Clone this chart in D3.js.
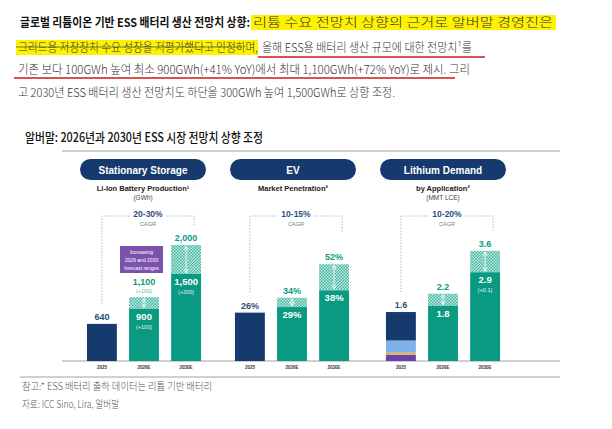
<!DOCTYPE html>
<html><head><meta charset="utf-8">
<script src="https://cdn.jsdelivr.net/npm/d3@7"></script>
<style>body{margin:0;background:#fff}svg{display:block;font-family:"Noto Sans CJK KR","Noto Sans",sans-serif}</style>
</head><body>
<script>
// panels
const panelTitles = ["Stationary Storage", "EV", "Lithium Demand"]
const panelSubs = [["Li-Ion Battery Production¹", "(GWh)"], ["Market Penetration²", ""], ["by Application²", "(MMT LCE)"]]
const years = ["2025", "2026E", "2030E"]
const cagr = ["20-30%", "10-15%", "10-20%"]
// base (solid) and high (hatched top) per panel
const storageLow = [640, 900, 1500], storageHigh = [640, 1100, 2000]
const storageNote = ["", "(+100)", "(+300)"], storageHighNote = ["", "(+100)", ""]
const evLow = [26, 29, 38], evHigh = [26, 34, 52]
const lithLow = [1.6, 1.8, 2.9], lithHigh = [1.6, 2.2, 3.6], lithNote = ["", "", "(+0.1)"]
const lith2025Parts = [0.2, 0.07, 0.4, 0.93]
const lithPartColors = ["#6b3fb0", "#f0b232", "#7fb1ea", "#163a6e"]

const W = 612, H = 429, base = 361
const navy = "#163a6e", teal = "#0a9a82"
const svg = d3.select("body").append("svg").attr("width", W).attr("height", H)
const defs = svg.append("defs")
const pat = defs.append("pattern").attr("id", "hatch").attr("width", 3).attr("height", 3).attr("patternUnits", "userSpaceOnUse")
pat.append("rect").attr("width", 3).attr("height", 3).attr("fill", "#3fb5a0")
pat.append("rect").attr("width", 1.5).attr("height", 1.5).attr("fill", "#c9ece4")
pat.append("rect").attr("x", 1.5).attr("y", 1.5).attr("width", 1.5).attr("height", 1.5).attr("fill", "#c9ece4")

// header text
const txt = (x, y, s, len, o = {}) => svg.append("text").attr("x", x).attr("y", y).attr("font-size", o.size || 12)
  .attr("font-weight", o.bold ? 700 : 300).attr("fill", o.fill || "#333").attr("textLength", len).attr("lengthAdjust", "spacingAndGlyphs").text(s)
svg.append("rect").attr("x", 251).attr("y", 15).attr("width", 305).attr("height", 15).attr("fill", "#fff200")
svg.append("rect").attr("x", 16).attr("y", 40).attr("width", 242).attr("height", 15).attr("fill", "#fff200")
txt(20, 27, "글로벌 리튬이온 기반 ESS 배터리 생산 전망치 상향:", 230, {bold: true, fill: "#111"})
txt(253, 27, "리튬 수요 전망치 상향의 근거로 알버말 경영진은", 300)
txt(18, 52, "그리드용 저장장치 수요 성장을 저평가했다고 인정하며,", 240)
txt(262, 52, "올해 ESS용 배터리 생산 규모에 대한 전망치¹를", 210)
txt(18, 74, "기존 보다 100GWh 높여 최소 900GWh(+41% YoY)에서 최대 1,100GWh(+72% YoY)로 제시. 그리", 452)
txt(18, 97, "고 2030년 ESS 배터리 생산 전망치도 하단을 300GWh 높여 1,500GWh로 상향 조정.", 377)
svg.append("line").attr("x1", 16).attr("x2", 242).attr("y1", 47).attr("y2", 47).attr("stroke", "#555").attr("stroke-width", 0.8)
svg.append("path").attr("d", "M258,57H485M14,78H455").attr("stroke", "#d01818").attr("stroke-width", 1.3).attr("fill", "none")
txt(25, 142, "알버말: 2026년과 2030년 ESS 시장 전망치 상향 조정", 238, {size: 13, fill: "#111"}).attr("font-weight", 500)

svg.append("path").attr("d", `M62,151H560M62,${base}H560M20,377H560`).attr("stroke", "#8a8a8a").attr("stroke-width", 0.8)

const panels = [
  {x0: 87, low: storageLow, high: storageHigh, note: storageNote, hnote: storageHighNote, k: 116 / 2000, fmt: d3.format(","), pill: 80},
  {x0: 235, low: evLow, high: evHigh, note: ["", "", ""], hnote: ["", "", ""], k: 1.86, fmt: d => d + "%", pill: 230},
  {x0: 386, low: lithLow, high: lithHigh, note: lithNote, hnote: ["", "", ""], k: 30.6, fmt: d3.format(".1f"), pill: 380}
]
panels.forEach((p, pi) => {
  const g = svg.append("g")
  const x = d3.scaleBand().domain(years).range([p.x0 - 11, p.x0 + 30 + 42 * 2 + 11]).paddingInner(0.29).paddingOuter(0.26)
  const y = d3.scaleLinear().domain([0, 1]).range([base, base - p.k])
  g.append("rect").attr("x", p.pill).attr("y", 159).attr("width", 126).attr("height", 21).attr("rx", 10.5).attr("fill", navy)
  g.append("text").attr("x", p.pill + 63).attr("y", 174).attr("text-anchor", "middle").attr("fill", "#fff").attr("font-size", 10).attr("font-weight", 700).attr("font-family", "Arial, Liberation Sans").text(panelTitles[pi])
  g.append("text").attr("x", p.pill + 63).attr("y", 191).attr("text-anchor", "middle").attr("fill", "#222").attr("font-size", 7.5).attr("font-weight", 700).attr("font-family", "Liberation Sans").text(panelSubs[pi][0])
  g.append("text").attr("x", p.pill + 63).attr("y", 200).attr("text-anchor", "middle").attr("fill", "#444").attr("font-size", 6.5).attr("font-family", "Liberation Sans").text(panelSubs[pi][1])
  // CAGR bracket
  const cx0 = x(years[0]) + x.bandwidth() / 2, cx1 = x(years[2]) + x.bandwidth() / 2 + 8
  const topL = y(p.high[0]) - 20, topR = y(p.high[2]) - 20
  g.append("path").attr("d", `M${cx0},${topL}V216H${cx0 + 28}M${cx1 - 28},216H${cx1}V${Math.min(topR, 232)}`)
    .attr("stroke", "#9cc0d8").attr("stroke-dasharray", "1.5,1.5").attr("fill", "none")
  g.append("text").attr("x", (cx0 + cx1) / 2).attr("y", 217).attr("text-anchor", "middle").attr("fill", "#2a4f80").attr("font-size", 8.5).attr("font-weight", 700).attr("font-family", "Liberation Sans").text(cagr[pi])
  g.append("text").attr("x", (cx0 + cx1) / 2).attr("y", 226).attr("text-anchor", "middle").attr("fill", "#6a7f95").attr("font-size", 5.5).attr("font-family", "Liberation Sans").text("CAGR")
  years.forEach((yr, i) => {
    const bx = x(yr), bw = x.bandwidth(), mid = bx + bw / 2
    if (i === 0) {
      if (pi === 2) {
        let acc = 0
        lith2025Parts.forEach((v, j) => {
          g.append("rect").attr("x", bx).attr("width", bw).attr("y", y(acc + v)).attr("height", y(acc) - y(acc + v)).attr("fill", lithPartColors[j])
          acc += v
        })
      } else g.append("rect").attr("x", bx).attr("width", bw).attr("y", y(p.low[0])).attr("height", base - y(p.low[0])).attr("fill", navy)
      g.append("text").attr("x", mid).attr("y", y(p.low[0]) - 4).attr("text-anchor", "middle").attr("fill", "#2a4f80").attr("font-size", 9).attr("font-weight", 700).attr("font-family", "Liberation Sans").text(p.fmt(p.low[0]))
    } else {
      g.append("rect").attr("x", bx).attr("width", bw).attr("y", y(p.high[i])).attr("height", y(p.low[i]) - y(p.high[i])).attr("fill", "url(#hatch)")
      g.append("rect").attr("x", bx).attr("width", bw).attr("y", y(p.low[i])).attr("height", base - y(p.low[i])).attr("fill", teal)
      g.append("line").attr("x1", mid).attr("x2", mid).attr("y1", y(p.high[i]) + 2).attr("y2", y(p.low[i]) - 2).attr("stroke", "#fff").attr("stroke-width", 0.8)
      g.append("path").attr("d", `M${mid - 2},${y(p.low[i]) - 5}L${mid},${y(p.low[i]) - 1}L${mid + 2},${y(p.low[i]) - 5}M${mid - 2},${y(p.high[i]) + 5}L${mid},${y(p.high[i]) + 1}L${mid + 2},${y(p.high[i]) + 5}`).attr("stroke", "#fff").attr("stroke-width", 0.8).attr("fill", "none")
      const labY = p.hnote[i] ? y(p.high[i]) - 12 : y(p.high[i]) - 4
      g.append("text").attr("x", mid).attr("y", labY).attr("text-anchor", "middle").attr("fill", teal).attr("font-size", 9).attr("font-weight", 700).attr("font-family", "Liberation Sans").text(p.fmt(p.high[i]))
      if (p.hnote[i]) g.append("text").attr("x", mid).attr("y", y(p.high[i]) - 4).attr("text-anchor", "middle").attr("fill", "#4fb8a5").attr("font-size", 5.5).attr("font-family", "Liberation Sans").text(p.hnote[i])
      g.append("text").attr("x", mid).attr("y", y(p.low[i]) + 11).attr("text-anchor", "middle").attr("fill", "#fff").attr("font-size", 9.5).attr("font-weight", 700).attr("font-family", "Liberation Sans").text(p.fmt(p.low[i]))
      if (p.note[i]) g.append("text").attr("x", mid).attr("y", y(p.low[i]) + 20).attr("text-anchor", "middle").attr("fill", "#e6f6f2").attr("font-size", 5.5).attr("font-family", "Liberation Sans").text(p.note[i])
    }
    g.append("text").attr("x", mid).attr("y", 369).attr("text-anchor", "middle").attr("fill", "#333").attr("font-size", 4.5).attr("font-weight", 700).attr("font-family", "Liberation Sans").text(yr)
  })
})
// purple callout
svg.append("rect").attr("x", 120).attr("y", 246).attr("width", 43).attr("height", 27).attr("fill", "#7b52ab")
;["Increasing", "2026 and 2030", "forecast ranges"].forEach((s, i) =>
  svg.append("text").attr("x", 141.5).attr("y", 254 + i * 8).attr("text-anchor", "middle").attr("fill", "#fff").attr("font-size", 5).attr("font-family", "Liberation Sans").text(s))

txt(22, 390, "참고:* ESS 배터리 출하 데이터는 리튬 기반 배터리", 190, {size: 10, fill: "#555"})
txt(22, 408, "자료: ICC Sino, Lira, 알버말", 97, {size: 10, fill: "#555"})
</script>
</body></html>
